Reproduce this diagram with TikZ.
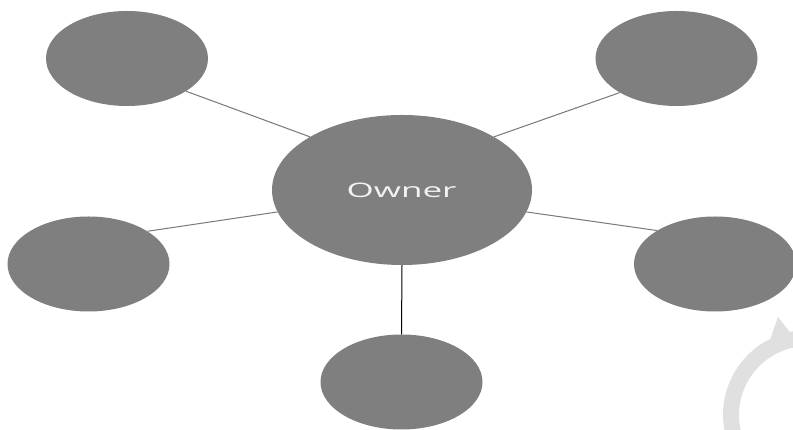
\documentclass[tikz,border=0pt]{standalone}
\usepackage{graphicx}
\usepackage{fontspec}
\usetikzlibrary{shapes.geometric}
\newfontfamily\ownerfont{Open Sans}
\definecolor{bubble}{RGB}{127,127,127}
\definecolor{spoke}{RGB}{120,120,120}
\definecolor{faint}{RGB}{224,224,224}
\begin{document}
\begin{tikzpicture}[x=1pt,y=1pt,
  bubblenode/.style={ellipse, fill=bubble, inner sep=0pt,
    minimum width=162pt, minimum height=95pt},
  hubnode/.style={bubblenode, minimum width=260pt, minimum height=150pt},
  spokeline/.style={draw=spoke, line width=1pt}]
\useasboundingbox (0,0) rectangle (793,430);
\fill[white] (0,0) rectangle (793,430);

% faint circular arrow in the lower right corner
\draw[faint, line width=16pt] (808,15) ++(100:77) arc[start angle=100, end angle=200, radius=77];
\fill[faint] (778,113) -- (770,90) -- (792,95) -- cycle;

% hub and the five satellites
\node[hubnode] (hub) at (402,240) {};
\node[bubblenode] (tl) at (127,371.5) {};
\node[bubblenode] (tr) at (676.5,371.5) {};
\node[bubblenode] (lf) at (88.5,166) {};
\node[bubblenode] (rt) at (715,166) {};
\node[bubblenode] (bt) at (401.5,48) {};

\node[text=white!95!black, font=\fontsize{20}{24}\selectfont] (owner) at (401.5,240)
  {\scalebox{1.75}[1]{\ownerfont Owner}};

% connectors
\draw[spokeline] (tl.-29) -- (hub.150);
\draw[spokeline] (tr.211) -- (hub.30);
\draw[spokeline] (lf.29) -- (hub.190);
\draw[spokeline] (rt.150) -- (hub.-10);
\draw[black, line width=1pt] (hub.south) -- (bt.north);
\end{tikzpicture}
\end{document}
